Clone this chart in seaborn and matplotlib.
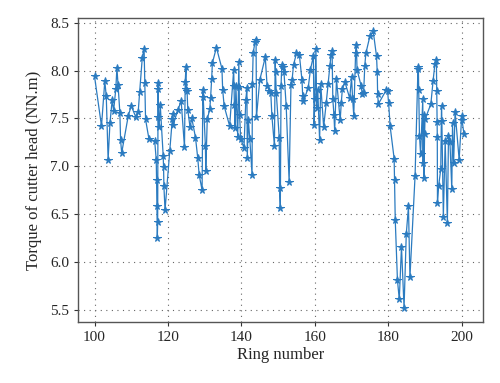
import matplotlib
matplotlib.use("Agg")
import matplotlib.pyplot as plt
import seaborn as sns
import pandas as pd

ring = [100.0, 101.9, 102.8, 103.2, 103.7, 104.2, 104.8, 105.2, 105.8, 106.1,
        106.4, 106.9, 107.1, 107.4, 109.2, 110.0, 111.3, 111.9, 112.3, 113.0,
        113.5, 113.7, 113.9, 114.8, 116.4, 116.8, 116.9, 117.0, 117.1, 117.2,
        117.3, 117.35, 117.4, 117.5, 117.9, 118.7, 118.8, 118.9, 119.2, 120.5,
        121.2, 121.3, 121.4, 122.7, 123.6, 124.5, 124.7, 124.9, 125.0, 125.2,
        125.4, 126.0, 126.5, 127.5, 128.1, 128.5, 129.3, 129.5, 129.6, 130.2,
        130.3, 130.7, 131.4, 131.6, 131.9, 132.1, 133.2, 134.7, 134.9, 135.3,
        136.8, 137.9, 138.0, 138.1, 138.3, 138.5, 139.0, 139.3, 139.4, 139.5,
        139.8, 140.7, 141.2, 141.5, 141.6, 141.9, 142.3, 142.9, 143.0, 143.2,
        143.7, 144.0, 144.1, 145.0, 146.5, 147.0, 147.6, 148.0, 148.3, 149.0,
        149.2, 149.3, 149.5, 150.3, 150.4, 150.6, 150.8, 151.0, 151.3, 151.6,
        152.2, 153.0, 153.5, 153.8, 154.2, 155.0, 155.8, 156.5, 156.7, 156.9,
        158.2, 158.8, 159.6, 159.8, 160.0, 160.3, 160.5, 160.8, 161.3, 161.6,
        162.4, 163.1, 163.6, 164.1, 164.4, 164.7, 164.9, 165.2, 165.4, 165.9,
        166.9, 167.2, 167.5, 168.2, 169.5, 170.0, 170.3, 170.6, 171.1, 171.3,
        171.5, 172.6, 172.9, 173.3, 173.6, 173.9, 175.0, 175.9, 176.8, 177.0,
        177.1, 177.3, 179.5, 179.8, 180.1, 180.5, 181.6, 181.7, 181.9, 182.5,
        183.0, 183.6, 184.3, 184.9, 185.5, 185.9, 187.3, 188.1, 188.2, 188.3,
        188.5, 188.8, 189.4, 189.5, 189.6, 189.7, 189.9, 190.0, 191.6, 192.2,
        192.7, 193.1, 193.2, 193.3, 193.35, 193.4, 193.7, 194.3, 194.5, 194.6,
        195.0, 195.5, 196.1, 196.4, 196.8, 197.3, 197.5, 197.8, 198.2, 199.3,
        200.0, 200.1, 200.6]

torque = [7.94, 7.42, 7.89, 7.73, 7.07, 7.45, 7.69, 7.58, 7.81, 8.03,
          7.85, 7.56, 7.27, 7.14, 7.53, 7.63, 7.51, 7.57, 7.78, 8.13,
          8.23, 7.87, 7.49, 7.29, 7.26, 7.07, 6.86, 6.58, 6.25, 6.42,
          7.87, 7.81, 7.51, 7.41, 7.64, 7.11, 6.99, 6.79, 6.54, 7.16,
          7.49, 7.55, 7.43, 7.59, 7.68, 7.20, 7.88, 8.04, 7.81, 7.79,
          7.59, 7.41, 7.50, 7.30, 7.09, 6.91, 6.75, 7.80, 7.72, 7.21,
          6.95, 7.49, 7.60, 7.71, 7.91, 8.08, 8.24, 8.02, 7.80, 7.63,
          7.42, 8.01, 7.84, 7.64, 7.40, 7.84, 7.31, 8.09, 7.83, 7.54,
          7.29, 7.19, 7.69, 7.82, 7.09, 7.48, 7.28, 6.91, 7.86, 8.18,
          8.30, 8.32, 7.51, 7.90, 8.14, 7.84, 7.79, 7.77, 7.53, 7.21,
          8.11, 7.98, 7.77, 7.30, 6.77, 6.56, 7.84, 8.06, 8.04, 7.98,
          7.63, 6.84, 7.85, 7.90, 8.06, 8.18, 8.16, 7.90, 7.73, 7.68,
          7.82, 8.01, 8.15, 7.43, 7.70, 8.22, 7.61, 7.80, 7.27, 7.86,
          7.41, 7.66, 7.86, 8.05, 8.16, 8.20, 7.70, 7.54, 7.37, 7.91,
          7.48, 7.66, 7.81, 7.88, 7.71, 7.93, 7.70, 7.53, 8.18, 8.27,
          8.01, 7.84, 7.76, 7.77, 8.05, 8.18, 8.36, 8.41, 8.15, 7.98,
          7.76, 7.65, 7.80, 7.79, 7.66, 7.42, 7.08, 6.86, 6.44, 5.81,
          5.61, 6.16, 5.52, 6.29, 6.58, 5.84, 6.90, 8.04, 8.02, 7.80,
          7.32, 7.13, 7.70, 7.03, 7.54, 6.88, 7.34, 7.49, 7.65, 7.89,
          8.07, 8.11, 7.79, 7.46, 7.31, 6.62, 6.79, 6.97, 7.63, 7.47,
          6.47, 7.26, 6.41, 7.32, 7.25, 6.76, 7.45, 7.03, 7.57, 7.07,
          7.52, 7.48, 7.34]

x_ticks = [100, 120, 140, 160, 180, 200]
y_ticks = [5.5, 6.0, 6.5, 7.0, 7.5, 8.0, 8.5]

sns.set_style("white")
plt.rcParams['font.family'] = ['Liberation Serif', 'DejaVu Serif']

df = pd.DataFrame({"ring": ring, "torque": torque})

fig = plt.figure(figsize=(5.0, 3.83), dpi=100)
ax = fig.add_axes([0.156, 0.159, 0.81, 0.794])
sns.lineplot(data=df, x="ring", y="torque", sort=False, ax=ax,
             color="#2b7bc0", linewidth=0.9, marker="*", markersize=5.5,
             markeredgecolor="#2b7bc0", markerfacecolor="#2b7bc0")

ax.set_xlim(95.5, 205.8)
ax.set_ylim(5.372, 8.549)
ax.set_xticks(x_ticks)
ax.set_yticks(y_ticks)
ax.set_yticklabels([f"{v:.1f}" for v in y_ticks])
ax.tick_params(axis="both", labelsize=11, direction="out", length=3,
               width=0.8, color="#333333", bottom=True, left=True)
ax.grid(True, linestyle=(0, (1, 4)), color="#666666", linewidth=0.8)
for s in ax.spines.values():
    s.set_color("#555555")
    s.set_linewidth(1.0)
ax.set_xlabel("Ring number", fontsize=12, labelpad=2)
ax.set_ylabel("Torque of cutter head (NN.m)", fontsize=12, labelpad=6)

fig.savefig("out.png", dpi=100)
